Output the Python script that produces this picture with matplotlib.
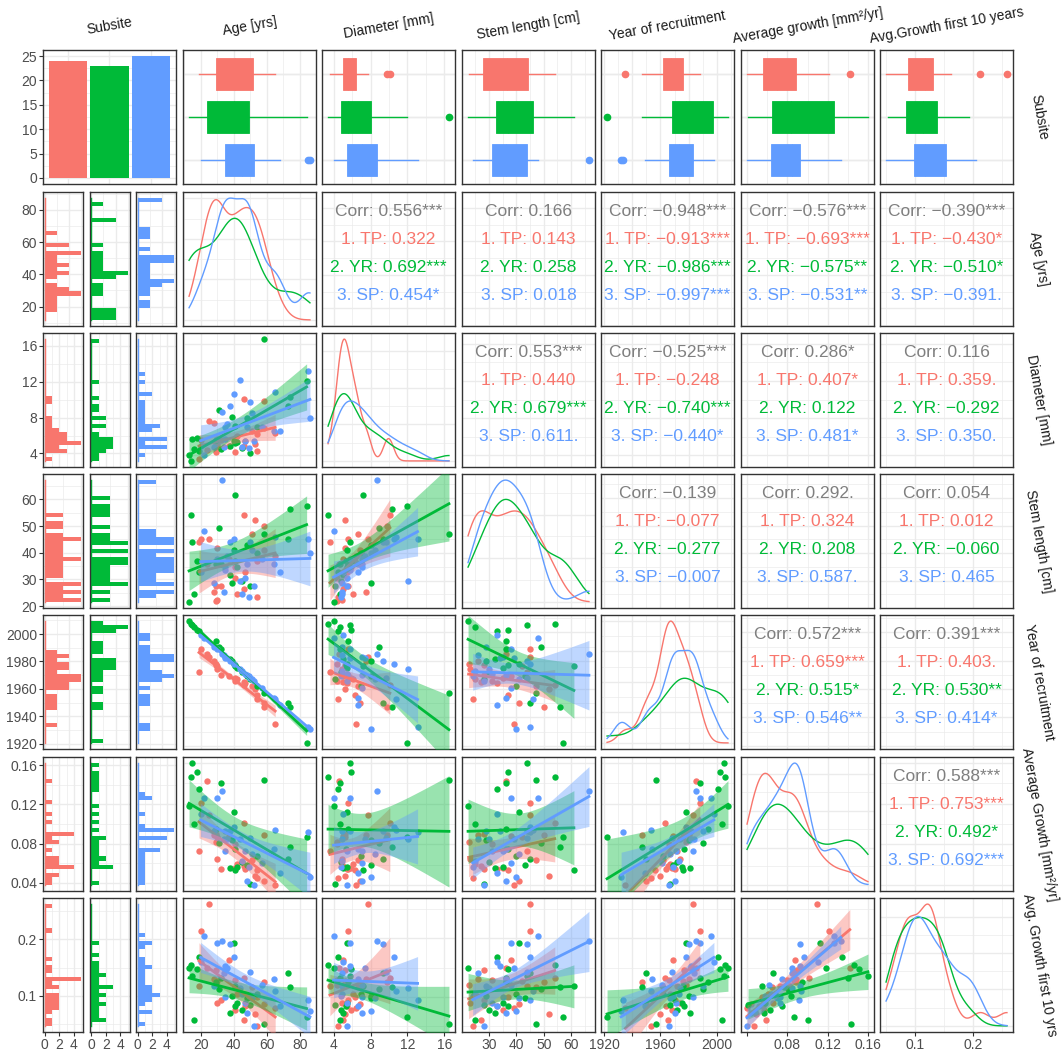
import numpy as np
import matplotlib
matplotlib.use("Agg")
import matplotlib.pyplot as plt
from matplotlib import cbook
from matplotlib.ticker import MaxNLocator

plt.rcParams["font.family"] = ["Liberation Sans", "DejaVu Sans"]

# ---------------------------------------------------------------- data
subsites = ["TP", "YR", "SP"]
subsite_counts = [24, 23, 25]
palette = ["#F8766D", "#00BA38", "#619CFF"]

tp_age = [19, 20, 24, 25, 28, 29, 29, 30, 30, 32, 37, 41, 41, 42, 46, 46, 47, 51, 53, 54, 54, 58, 58, 65]
tp_diameter = [3.6, 5.6, 4.6, 7.7, 7.5, 5.2, 4.4, 5.2, 4.9, 5.6, 5.0, 5.9, 4.4, 6.1, 5.0, 10.1, 5.5, 6.6, 5.2, 6.3, 4.5, 6.9, 9.8, 6.4]
tp_stem = [44, 45, 36, 45, 26, 28, 22.5, 42, 23, 28, 38, 35, 31, 25, 27, 54, 33, 47, 52, 37, 24, 41, 50, 39]
tp_year = [1972, 1988, 1985, 1983, 1980, 1977, 1978, 1976, 1974, 1970, 1969, 1968, 1966, 1967, 1965, 1963, 1964, 1962, 1960, 1956, 1953, 1950, 1947, 1935]
tp_growth = [0.073, 0.121, 0.142, 0.109, 0.089, 0.090, 0.082, 0.087, 0.066, 0.056, 0.088, 0.057, 0.080, 0.061, 0.059, 0.101, 0.056, 0.065, 0.049, 0.055, 0.047, 0.044, 0.089, 0.040]
tp_growth10 = [0.118, 0.213, 0.150, 0.259, 0.130, 0.146, 0.120, 0.127, 0.090, 0.095, 0.163, 0.077, 0.129, 0.104, 0.060, 0.132, 0.085, 0.116, 0.070, 0.100, 0.050, 0.088, 0.126, 0.080]

yr_age = [13, 14, 15, 16, 18, 19, 29, 31, 32, 38, 39, 40, 41, 41, 42, 45, 48, 50, 54, 58, 73, 74, 84]
yr_diameter = [4.0, 3.4, 5.8, 4.7, 5.9, 4.5, 5.6, 8.9, 4.7, 5.0, 8.1, 5.5, 5.3, 7.2, 5.4, 4.8, 8.0, 4.2, 7.0, 16.5, 9.3, 10.3, 12.0]
yr_stem = [22.3, 54, 44, 25, 37, 33, 36, 49, 36, 32, 29, 41, 37, 61, 35, 30, 43, 28, 40, 47, 45, 56, 57]
yr_year = [2008, 2006, 2005, 2004, 2002, 2001, 1994, 1990, 1988, 1981, 1980, 1978, 1977, 1976, 1975, 1972, 1969, 1967, 1962, 1957, 1950, 1947, 1922]
yr_growth = [0.118, 0.146, 0.160, 0.100, 0.151, 0.134, 0.095, 0.081, 0.140, 0.057, 0.084, 0.112, 0.075, 0.055, 0.058, 0.063, 0.060, 0.041, 0.068, 0.143, 0.066, 0.077, 0.087]
yr_growth10 = [0.150, 0.155, 0.135, 0.060, 0.147, 0.169, 0.125, 0.114, 0.132, 0.072, 0.102, 0.193, 0.084, 0.118, 0.090, 0.078, 0.098, 0.086, 0.105, 0.054, 0.140, 0.116, 0.065]

sp_age = [20, 22, 28, 30, 33, 34, 35, 35, 36, 38, 40, 44, 45, 47, 48, 49, 50, 51, 52, 57, 64, 65, 68, 85, 86]
sp_diameter = [5.0, 4.0, 4.9, 5.8, 8.7, 4.9, 7.1, 5.8, 7.4, 9.3, 10.6, 12.1, 4.9, 5.5, 7.1, 4.8, 9.7, 8.5, 5.5, 7.1, 6.6, 10.8, 6.6, 13.1, 8.0]
sp_stem = [33, 48, 29, 38, 66.5, 26, 35, 34, 39, 44, 45, 30, 25, 31, 36, 24, 44, 41, 28, 38, 36, 46, 33, 45, 40]
sp_year = [1998, 1996, 1990, 1988, 1985, 1984, 1983, 1982, 1982, 1980, 1978, 1974, 1973, 1971, 1970, 1969, 1968, 1967, 1966, 1961, 1954, 1953, 1949, 1933, 1932]
sp_growth = [0.110, 0.126, 0.093, 0.126, 0.133, 0.085, 0.073, 0.093, 0.085, 0.093, 0.097, 0.085, 0.064, 0.073, 0.044, 0.058, 0.086, 0.070, 0.040, 0.062, 0.075, 0.094, 0.052, 0.092, 0.048]
sp_growth10 = [0.160, 0.205, 0.118, 0.193, 0.196, 0.140, 0.100, 0.153, 0.150, 0.190, 0.168, 0.115, 0.105, 0.090, 0.072, 0.102, 0.143, 0.098, 0.050, 0.120, 0.130, 0.110, 0.085, 0.095, 0.075]

column_titles = ["Subsite", "Age [yrs]", "Diameter [mm]", "Stem length [cm]",
                 "Year of recruitment", "Average growth [mm²/yr]", "Avg.Growth first 10 years"]
row_titles = ["Subsite", "Age [yrs]", "Diameter [mm]", "Stem length [cm]",
              "Year of recruitment", "Average Growth [mm²/yr]", "Avg. Growth first 10 yrs"]

# correlation summaries (overall + per subsite) for the upper triangle
corr_labels = {
    (1, 2): ["Corr: 0.556***", "1. TP: 0.322", "2. YR: 0.692***", "3. SP: 0.454*"],
    (1, 3): ["Corr: 0.166", "1. TP: 0.143", "2. YR: 0.258", "3. SP: 0.018"],
    (1, 4): ["Corr: −0.948***", "1. TP: −0.913***", "2. YR: −0.986***", "3. SP: −0.997***"],
    (1, 5): ["Corr: −0.576***", "1. TP: −0.693***", "2. YR: −0.575**", "3. SP: −0.531**"],
    (1, 6): ["Corr: −0.390***", "1. TP: −0.430*", "2. YR: −0.510*", "3. SP: −0.391."],
    (2, 3): ["Corr: 0.553***", "1. TP: 0.440", "2. YR: 0.679***", "3. SP: 0.611."],
    (2, 4): ["Corr: −0.525***", "1. TP: −0.248", "2. YR: −0.740***", "3. SP: −0.440*"],
    (2, 5): ["Corr: 0.286*", "1. TP: 0.407*", "2. YR: 0.122", "3. SP: 0.481*"],
    (2, 6): ["Corr: 0.116", "1. TP: 0.359.", "2. YR: −0.292", "3. SP: 0.350."],
    (3, 4): ["Corr: −0.139", "1. TP: −0.077", "2. YR: −0.277", "3. SP: −0.007"],
    (3, 5): ["Corr: 0.292.", "1. TP: 0.324", "2. YR: 0.208", "3. SP: 0.587."],
    (3, 6): ["Corr: 0.054", "1. TP: 0.012", "2. YR: −0.060", "3. SP: 0.465"],
    (4, 5): ["Corr: 0.572***", "1. TP: 0.659***", "2. YR: 0.515*", "3. SP: 0.546**"],
    (4, 6): ["Corr: 0.391***", "1. TP: 0.403.", "2. YR: 0.530**", "3. SP: 0.414*"],
    (5, 6): ["Corr: 0.588***", "1. TP: 0.753***", "2. YR: 0.492*", "3. SP: 0.692***"],
}

measures = {
    "age": [tp_age, yr_age, sp_age],
    "diameter": [tp_diameter, yr_diameter, sp_diameter],
    "stem": [tp_stem, yr_stem, sp_stem],
    "year": [tp_year, yr_year, sp_year],
    "growth": [tp_growth, yr_growth, sp_growth],
    "growth10": [tp_growth10, yr_growth10, sp_growth10],
}
measure_order = ["age", "diameter", "stem", "year", "growth", "growth10"]

# axis breaks: (major, minor, bottom-axis labels)
breaks = {
    "age": ([20, 40, 60, 80], [10, 30, 50, 70, 90], ["20", "40", "60", "80"]),
    "diameter": ([4, 8, 12, 16], [2, 6, 10, 14, 18], ["4", "8", "12", "16"]),
    "stem": ([20, 30, 40, 50, 60], [15, 25, 35, 45, 55, 65], ["", "30", "40", "50", "60"]),
    "year": ([1920, 1940, 1960, 1980, 2000], [1910, 1930, 1950, 1970, 1990, 2010],
             ["1920", "", "1960", "", "2000"]),
    "growth": ([0.04, 0.08, 0.12, 0.16], [0.02, 0.06, 0.10, 0.14, 0.18], ["", "0.08", "0.12", "0.16"]),
    "growth10": ([0.1, 0.2], [0.05, 0.15, 0.25], ["0.1", "0.2"]),
}

# ---------------------------------------------------------------- layout
W, H = 1063, 1052
col_x = [43, 183, 322, 462, 601, 741, 880]
row_y = [50, 192, 333, 474, 615, 757, 898]
PW, PH = 133, 134
facet_x = [43, 89.5, 136]
FW = 40

GRID = "#EBEBEB"
BORDER = "#333333"
TICK_TXT = "#4D4D4D"

fig = plt.figure(figsize=(W / 100, H / 100), dpi=100)
fig.patch.set_facecolor("white")


def place(x, y, w, h):
    return fig.add_axes([x / W, 1 - (y + h) / H, w / W, h / H])


def frame(ax, xmaj, xmin, ymaj, ymin, show_x=False, show_y=False,
          xlabels=None, ylabels=None):
    ax.set_xticks(xmaj)
    ax.set_xticks(xmin, minor=True)
    ax.set_yticks(ymaj)
    ax.set_yticks(ymin, minor=True)
    if show_x:
        ax.set_xticklabels(xlabels if xlabels is not None else [f"{t:g}" for t in xmaj])
    if show_y:
        ax.set_yticklabels(ylabels if ylabels is not None else [f"{t:g}" for t in ymaj])
    ax.grid(which="major", color=GRID, lw=1.0)
    ax.grid(which="minor", color=GRID, lw=0.5)
    ax.set_axisbelow(True)
    for sp in ax.spines.values():
        sp.set_color(BORDER)
        sp.set_linewidth(1.0)
    ax.tick_params(which="minor", length=0)
    ax.tick_params(which="major", length=2.8, width=0.8, color=BORDER,
                   labelcolor=TICK_TXT, labelsize=10, pad=1.5)
    ax.tick_params(bottom=show_x, labelbottom=show_x, left=show_y, labelleft=show_y)


def limits(key):
    allv = np.concatenate([np.asarray(v, float) for v in measures[key]])
    lo, hi = allv.min(), allv.max()
    pad = 0.05 * (hi - lo)
    return lo - pad, hi + pad, lo, hi


def kde(values, grid):
    v = np.asarray(values, float)
    n = len(v)
    q75, q25 = np.percentile(v, [75, 25])
    h = 0.9 * min(v.std(ddof=1), (q75 - q25) / 1.34) * n ** -0.2
    z = (grid[:, None] - v[None, :]) / h
    return np.exp(-0.5 * z ** 2).sum(axis=1) / (n * h * np.sqrt(2 * np.pi))


def t975(df):
    z = 1.959964
    return (z + (z ** 3 + z) / (4 * df)
            + (5 * z ** 5 + 16 * z ** 3 + 3 * z) / (96 * df ** 2))


def lm_band(x, y, xs):
    n = len(x)
    xm, ym = x.mean(), y.mean()
    sxx = ((x - xm) ** 2).sum()
    b = ((x - xm) * (y - ym)).sum() / sxx
    a = ym - b * xm
    s = np.sqrt(((y - a - b * x) ** 2).sum() / (n - 2))
    fit = a + b * xs
    se = s * np.sqrt(1 / n + (xs - xm) ** 2 / sxx)
    t = t975(n - 2)
    return fit, fit - t * se, fit + t * se


# ---------------------------------------------------------------- row 0, col 0: counts per subsite
ax = place(col_x[0], row_y[0], PW, PH)
ax.bar([1, 2, 3], subsite_counts, width=0.93, color=palette, zorder=2)
frame(ax, [1, 2, 3], [], [0, 5, 10, 15, 20, 25], [2.5, 7.5, 12.5, 17.5, 22.5], show_y=True)
ax.set_xlim(0.4, 3.6)
ax.set_ylim(-1.25, 26.25)

# ---------------------------------------------------------------- row 0: boxplots
box_pos = [3, 2, 1]
for c, key in enumerate(measure_order, start=1):
    ax = place(col_x[c], row_y[0], PW, PH)
    xlo, xhi, _, _ = limits(key)
    maj, mnr, _ = breaks[key]
    frame(ax, maj, mnr, [1, 2, 3], [])
    for g in range(3):
        st = cbook.boxplot_stats(np.asarray(measures[key][g], float), whis=1.5)
        col = palette[g]
        ax.bxp(st, positions=[box_pos[g]], widths=0.75, orientation="horizontal",
               patch_artist=True, showcaps=False,
               boxprops=dict(facecolor=col, edgecolor=col, linewidth=0.6),
               whiskerprops=dict(color=col, linewidth=1.0),
               medianprops=dict(color=col, linewidth=0.6),
               flierprops=dict(marker="o", markerfacecolor=col, markeredgecolor=col,
                               markersize=4.5))
    ax.set_xlim(xlo, xhi)
    ax.set_ylim(0.45, 3.55)

# ---------------------------------------------------------------- column 0: histograms by subsite
for r, key in enumerate(measure_order, start=1):
    _, _, lo, hi = limits(key)
    w = (hi - lo) / 29
    edges = lo - w / 2 + w * np.arange(31)
    span = edges[-1] - edges[0]
    hists = [np.histogram(np.asarray(v, float), bins=edges)[0] for v in measures[key]]
    maxc = max(h.max() for h in hists)
    maj, mnr, _ = breaks[key]
    centers = (edges[:-1] + edges[1:]) / 2
    for g in range(3):
        ax = place(facet_x[g], row_y[r], FW, PH)
        ax.barh(centers, hists[g], height=w, color=palette[g], lw=0, zorder=2)
        ax.plot([0, 0], [edges[0], edges[-1]], color=palette[g], lw=1.0, zorder=2)
        frame(ax, [0, 2, 4], [1, 3, 5], maj, mnr,
              show_x=(r == 6), show_y=(g == 0))
        ax.set_xlim(-0.05 * maxc, 1.05 * maxc)
        ax.set_ylim(edges[0] - 0.05 * span, edges[-1] + 0.05 * span)

# ---------------------------------------------------------------- grid of pairwise panels
for r, ykey in enumerate(measure_order, start=1):
    for c, xkey in enumerate(measure_order, start=1):
        ax = place(col_x[c], row_y[r], PW, PH)
        xlo, xhi, xmin_d, xmax_d = limits(xkey)
        ylo, yhi, _, _ = limits(ykey)
        xmaj, xmnr, xlab = breaks[xkey]
        ymaj, ymnr, _ = breaks[ykey]
        bottom = (r == 6)

        if r == c:
            grid_x = np.linspace(xmin_d, xmax_d, 512)
            curves = [kde(v, grid_x) for v in measures[xkey]]
            top = max(cv.max() for cv in curves)
            dmaj = MaxNLocator(nbins=4).tick_values(0, top)
            dmin = (dmaj[:-1] + dmaj[1:]) / 2
            frame(ax, xmaj, xmnr, dmaj, dmin, show_x=bottom, xlabels=xlab)
            for g in range(3):
                ax.plot(grid_x, curves[g], color=palette[g], lw=1.0)
            ax.set_xlim(xlo, xhi)
            ax.set_ylim(-0.05 * top, 1.05 * top)

        elif r < c:
            frame(ax, xmaj, xmnr, ymaj, ymnr, show_x=bottom, xlabels=xlab)
            ax.set_xlim(xlo, xhi)
            ax.set_ylim(ylo, yhi)
            lines = corr_labels[(r, c)]
            text_cols = ["#7F7F7F"] + palette
            for i, (s, tc) in enumerate(zip(lines, text_cols)):
                ax.text(0.5, 0.858 - 0.2105 * i, s, transform=ax.transAxes,
                        ha="center", va="center", fontsize=12.5, color=tc)

        else:
            frame(ax, xmaj, xmnr, ymaj, ymnr, show_x=bottom, xlabels=xlab)
            for g in range(3):
                ax.scatter(measures[xkey][g], measures[ykey][g], s=21,
                           color=palette[g], lw=0, zorder=2)
            for g in range(3):
                x = np.asarray(measures[xkey][g], float)
                y = np.asarray(measures[ykey][g], float)
                xs = np.linspace(x.min(), x.max(), 80)
                fit, low, upp = lm_band(x, y, xs)
                ax.fill_between(xs, low, upp, color=palette[g], alpha=0.4, lw=0, zorder=3)
                ax.plot(xs, fit, color=palette[g], lw=2.0, zorder=3)
            ax.set_xlim(xlo, xhi)
            ax.set_ylim(ylo, yhi)

# ---------------------------------------------------------------- strip titles
for c, title in enumerate(column_titles):
    fig.text((col_x[c] + PW / 2) / W, 1 - 26 / H, title, rotation=10,
             rotation_mode="anchor", ha="center", va="center",
             fontsize=10, color="#1A1A1A")
for r, title in enumerate(row_titles):
    fig.text(1039 / W, 1 - (row_y[r] + PH / 2) / H, title, rotation=-80,
             rotation_mode="anchor", ha="center", va="center",
             fontsize=10, color="#1A1A1A")

fig.savefig("out.png", dpi=100, facecolor="white")
